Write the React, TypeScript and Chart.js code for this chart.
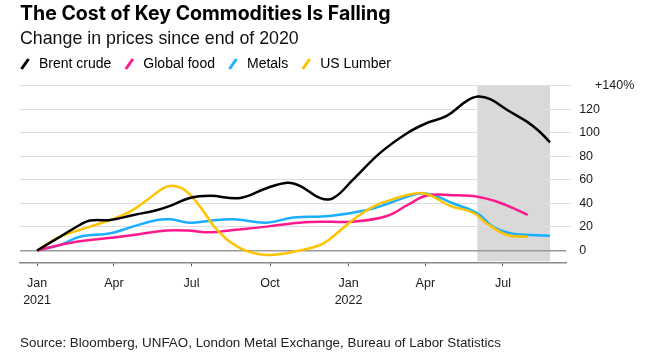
import React, { useEffect, useRef } from 'react';
import { Chart, registerables } from 'chart.js';

Chart.register(...registerables);

// ---------- Text ----------
const TITLE = 'The Cost of Key Commodities Is Falling';
const SUBTITLE = 'Change in prices since end of 2020';
const SOURCE = 'Source: Bloomberg, UNFAO, London Metal Exchange, Bureau of Labor Statistics';

// ---------- Series ----------
const seriesNames = ['Brent crude', 'Global food', 'Metals', 'US Lumber'];
const seriesColors = ['#000000', '#ff1a8c', '#1ab0ff', '#ffc300'];

const brentDates = [
  '2021-01-01', '2021-01-28', '2021-02-20', '2021-03-04', '2021-03-28', '2021-04-23',
  '2021-05-22', '2021-06-06', '2021-06-29', '2021-07-23', '2021-08-27', '2021-09-27',
  '2021-10-21', '2021-11-05', '2021-11-29', '2021-12-14', '2022-01-06', '2022-02-07',
  '2022-03-11', '2022-04-03', '2022-04-26', '2022-05-20', '2022-06-02', '2022-06-16',
  '2022-07-06', '2022-07-29', '2022-08-13', '2022-08-25',
];
const brentValues = [
  0, 11.7, 21.7, 25.5, 26, 30,
  34.5, 38, 44.7, 46.5, 44.7, 53,
  57.7, 55, 44.5, 44.5, 60, 83,
  100, 108.5, 114.5, 127.5, 131, 128.7,
  119.5, 109.6, 101, 92,
];

const foodDates = [
  '2021-01-01', '2021-02-05', '2021-03-04', '2021-04-08', '2021-05-02', '2021-06-02',
  '2021-06-26', '2021-07-23', '2021-08-19', '2021-09-27', '2021-11-05', '2021-12-10',
  '2022-01-06', '2022-02-15', '2022-03-11', '2022-04-03', '2022-05-03', '2022-06-01',
  '2022-06-24', '2022-07-13', '2022-07-30',
];
const foodValues = [
  0, 6, 9, 11.7, 14, 17,
  17, 15.5, 17.5, 20.3, 23.7, 24.5,
  24.5, 29.4, 38.7, 46.7, 47, 45.8,
  41.5, 36, 30.2,
];

const metalsDates = [
  '2021-01-01', '2021-01-28', '2021-02-20', '2021-03-28', '2021-04-23', '2021-05-22',
  '2021-06-06', '2021-06-29', '2021-07-23', '2021-08-19', '2021-09-27', '2021-10-28',
  '2021-12-10', '2022-01-23', '2022-02-15', '2022-03-11', '2022-03-26', '2022-04-10',
  '2022-05-03', '2022-06-01', '2022-06-19', '2022-07-09', '2022-08-02', '2022-08-25',
];
const metalsValues = [
  0, 4.7, 11.7, 14.6, 20.3, 26,
  26.5, 23.7, 25.4, 26.5, 23.7, 28,
  29.4, 34.5, 39.6, 45.8, 48.7, 47.2,
  40.2, 31.7, 20.3, 14.6, 13.2, 12.6,
];

const lumberDates = [
  '2021-01-01', '2021-01-28', '2021-03-04', '2021-03-28', '2021-04-20', '2021-05-10',
  '2021-05-29', '2021-06-08', '2021-06-23', '2021-07-11', '2021-07-31', '2021-08-27',
  '2021-09-27', '2021-11-05', '2021-11-29', '2021-12-10', '2022-01-06', '2022-01-30',
  '2022-02-22', '2022-03-22', '2022-04-06', '2022-04-30', '2022-05-27', '2022-06-12',
  '2022-07-06', '2022-07-30',
];
const lumberValues = [
  0, 11.7, 20.3, 26, 33, 43,
  53, 55, 51.5, 37.3, 17.5, 2,
  -3.8, 0, 4.7, 9.7, 26, 37.3,
  43.6, 48.7, 47.2, 38, 32.2, 23,
  13.2, 11.7,
];

// ---------- Axes ----------
const xTickDates = ['2021-01-01', '2021-04-01', '2021-07-01', '2021-10-01', '2022-01-01', '2022-04-01', '2022-07-01'];
const xTickLabels: (string | string[])[] = [['Jan', '2021'], 'Apr', 'Jul', 'Oct', ['Jan', '2022'], 'Apr', 'Jul'];
const xRange = ['2020-12-12', '2022-09-13'];
const yTickValues = [0, 20, 40, 60, 80, 100, 120, 140];
const yTickLabels = ['0', '20', '40', '60', '80', '100', '120', '+140%'];
const yRange = [-10, 140];
const shadeRange = ['2022-06-01', '2022-08-25'];

const ORIGIN = Date.UTC(2021, 0, 1);
const day = (s: string) => {
  const [y, m, d] = s.split('-').map(Number);
  return (Date.UTC(y, m - 1, d) - ORIGIN) / 86400000;
};
const toPoints = (dates: string[], values: number[]) => dates.map((d, i) => ({ x: day(d), y: values[i] }));

const allSeries = [
  toPoints(brentDates, brentValues),
  toPoints(foodDates, foodValues),
  toPoints(metalsDates, metalsValues),
  toPoints(lumberDates, lumberValues),
];

const BODY_FONT = '"Liberation Sans", Arial, sans-serif';

const shadePlugin = {
  id: 'shade',
  beforeDraw(chart: any) {
    const { ctx, chartArea, scales } = chart;
    const x0 = scales.x.getPixelForValue(day(shadeRange[0]));
    const x1 = scales.x.getPixelForValue(day(shadeRange[1]));
    ctx.save();
    ctx.fillStyle = '#d9d9d9';
    ctx.fillRect(x0, chartArea.top, x1 - x0, chartArea.bottom - chartArea.top - 1);
    ctx.restore();
  },
};

const extrasPlugin = {
  id: 'extras',
  afterDraw(chart: any) {
    const { ctx, scales } = chart;
    ctx.save();
    // Legend
    ctx.font = `14px ${BODY_FONT}`;
    ctx.textBaseline = 'middle';
    ctx.textAlign = 'left';
    let x = 20;
    const y = 64;
    chart.data.datasets.forEach((ds: any) => {
      ctx.strokeStyle = ds.borderColor;
      ctx.lineWidth = 3;
      ctx.lineCap = 'butt';
      ctx.beginPath();
      ctx.moveTo(x + 1.5, y + 5);
      ctx.lineTo(x + 8.5, y - 5);
      ctx.stroke();
      ctx.fillStyle = '#000';
      ctx.fillText(ds.label, x + 19, y);
      x += 19 + ctx.measureText(ds.label).width + 13;
    });
    // Top y label
    ctx.font = `12.5px ${BODY_FONT}`;
    ctx.fillStyle = '#1a1a1a';
    const yTop = scales.y.getPixelForValue(yTickValues[yTickValues.length - 1]);
    ctx.fillText(yTickLabels[yTickLabels.length - 1], 595, yTop);
    // Source
    ctx.font = `13.4px ${BODY_FONT}`;
    ctx.fillStyle = '#222';
    ctx.fillText(SOURCE, 20, 343.5);
    ctx.restore();
  },
};

export default function App() {
  const ref = useRef<HTMLCanvasElement | null>(null);

  useEffect(() => {
    if (!ref.current) return;
    const chart = new Chart(ref.current, {
      type: 'line',
      data: {
        datasets: allSeries.map((pts, i) => ({
          label: seriesNames[i],
          data: pts,
          borderColor: seriesColors[i],
          backgroundColor: seriesColors[i],
          borderWidth: 2.5,
          pointRadius: 0,
          tension: 0.4,
          fill: false,
          order: [0, 2, 3, 1][i],
        })),
      },
      options: {
        animation: false,
        responsive: false,
        devicePixelRatio: 1,
        layout: { padding: { left: 20, right: 45, top: 0, bottom: 41 } },
        plugins: {
          legend: { display: false },
          tooltip: { enabled: false },
          title: {
            display: true,
            text: TITLE,
            align: 'start',
            color: '#000',
            font: { family: 'Inter', weight: 'bold', size: 19.5, lineHeight: 1.1 },
            padding: { top: 3, bottom: 0 },
          },
          subtitle: {
            display: true,
            text: SUBTITLE,
            align: 'start',
            color: '#111',
            font: { family: BODY_FONT, size: 17.8, lineHeight: 1.2 },
            padding: { top: 3.5, bottom: 36.6 },
          },
        },
        scales: {
          x: {
            type: 'linear',
            min: day(xRange[0]),
            max: day(xRange[1]),
            afterBuildTicks: (scale: any) => {
              scale.ticks = xTickDates.map((d) => ({ value: day(d) }));
            },
            ticks: {
              autoSkip: false,
              maxRotation: 0,
              padding: 9,
              color: '#1a1a1a',
              font: { family: BODY_FONT, size: 12.5, lineHeight: 1.35 },
              callback: (_v: any, i: number) => xTickLabels[i],
            },
            grid: { display: true, drawOnChartArea: false, drawTicks: true, tickLength: 4, color: '#555', lineWidth: 1 },
            border: { display: true, color: '#888', width: 1.5 },
          },
          y: {
            type: 'linear',
            position: 'right',
            min: yRange[0],
            max: yRange[1],
            afterBuildTicks: (scale: any) => {
              scale.ticks = yTickValues.map((v) => ({ value: v }));
            },
            ticks: {
              padding: 8,
              color: '#1a1a1a',
              font: { family: BODY_FONT, size: 12.5 },
              callback: (v: any) => {
                const i = yTickValues.indexOf(Number(v));
                return i === yTickValues.length - 1 ? '' : yTickLabels[i];
              },
            },
            grid: {
              drawTicks: true,
              tickLength: 5,
              color: (c: any) => (c.tick && c.tick.value === 0 ? '#999' : '#dedede'),
              lineWidth: (c: any) => (c.tick && c.tick.value === 0 ? 1.5 : 1),
              tickColor: (c: any) => (c.tick && c.tick.value === 0 ? 'rgba(0,0,0,0)' : '#dedede'),
            },
            border: { display: false },
          },
        },
      } as any,
      plugins: [shadePlugin, extrasPlugin],
    });
    return () => chart.destroy();
  }, []);

  return (
    <div style={{ position: 'fixed', left: 0, top: 0, width: 653, height: 359, background: '#fff' }}>
      <canvas ref={ref} width={653} height={359} style={{ width: 653, height: 359, display: 'block' }} />
    </div>
  );
}
